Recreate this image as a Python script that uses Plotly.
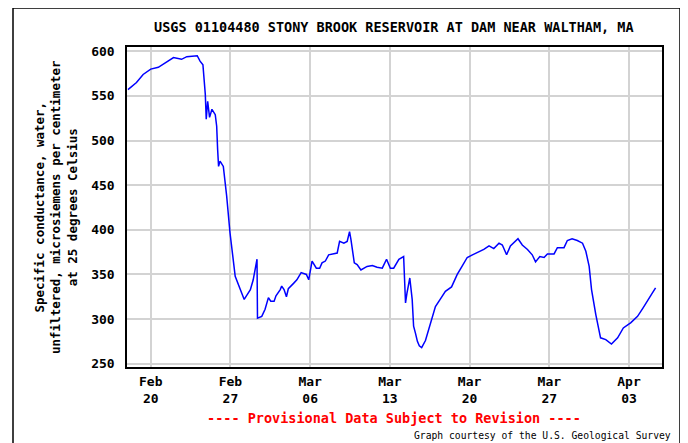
import plotly.graph_objects as go

# data (year assumed non-leap, 2023)
times = [
    "2023-02-18 00:00", "2023-02-18 18:00", "2023-02-19 08:00", "2023-02-20 00:00",
    "2023-02-20 16:00", "2023-02-21 06:00", "2023-02-22 00:00", "2023-02-22 17:00",
    "2023-02-23 04:00", "2023-02-24 02:00", "2023-02-24 08:00", "2023-02-24 14:00",
    "2023-02-24 19:00", "2023-02-24 21:00", "2023-02-25 00:00", "2023-02-25 04:00",
    "2023-02-25 09:00", "2023-02-25 16:00", "2023-02-25 19:00", "2023-02-25 21:00",
    "2023-02-25 23:00", "2023-02-26 02:00", "2023-02-26 09:00", "2023-02-26 16:00",
    "2023-02-26 23:00", "2023-02-27 10:00", "2023-02-27 20:00", "2023-02-28 05:00",
    "2023-02-28 11:00", "2023-02-28 18:00", "2023-03-01 00:00", "2023-03-01 04:00",
    "2023-03-01 08:00", "2023-03-01 09:00", "2023-03-01 18:00", "2023-03-02 01:00",
    "2023-03-02 08:00", "2023-03-02 13:00", "2023-03-02 20:00", "2023-03-03 00:00",
    "2023-03-03 09:00", "2023-03-03 12:00", "2023-03-03 17:00", "2023-03-03 22:00",
    "2023-03-04 02:00", "2023-03-04 13:00", "2023-03-04 20:00", "2023-03-05 05:00",
    "2023-03-05 16:00", "2023-03-05 21:00", "2023-03-06 04:00", "2023-03-06 13:00",
    "2023-03-06 20:00", "2023-03-07 01:00", "2023-03-07 08:00", "2023-03-07 15:00",
    "2023-03-08 09:00", "2023-03-08 14:00", "2023-03-08 23:00", "2023-03-09 06:00",
    "2023-03-09 11:00", "2023-03-09 14:00", "2023-03-09 21:00", "2023-03-10 03:00",
    "2023-03-10 11:00", "2023-03-11 00:00", "2023-03-11 11:00", "2023-03-11 21:00",
    "2023-03-12 08:00", "2023-03-12 17:00", "2023-03-13 01:00", "2023-03-13 08:00",
    "2023-03-13 19:00", "2023-03-14 05:00", "2023-03-14 07:00", "2023-03-14 09:00",
    "2023-03-14 12:00", "2023-03-14 16:00", "2023-03-14 18:00", "2023-03-14 23:00",
    "2023-03-15 02:00", "2023-03-15 06:00", "2023-03-15 10:00", "2023-03-15 14:00",
    "2023-03-15 19:00", "2023-03-16 03:00", "2023-03-16 14:00", "2023-03-17 00:00",
    "2023-03-17 11:00", "2023-03-17 21:00", "2023-03-18 10:00", "2023-03-18 22:00",
    "2023-03-19 08:00", "2023-03-19 19:00", "2023-03-20 06:00", "2023-03-20 17:00",
    "2023-03-21 06:00", "2023-03-21 17:00", "2023-03-22 03:00", "2023-03-22 14:00",
    "2023-03-22 21:00", "2023-03-23 06:00", "2023-03-23 14:00", "2023-03-24 06:00",
    "2023-03-24 15:00", "2023-03-25 02:00", "2023-03-25 12:00", "2023-03-25 19:00",
    "2023-03-26 04:00", "2023-03-26 13:00", "2023-03-26 20:00", "2023-03-27 10:00",
    "2023-03-27 17:00", "2023-03-28 07:00", "2023-03-28 14:00", "2023-03-29 00:00",
    "2023-03-29 11:00", "2023-03-29 22:00", "2023-03-30 05:00", "2023-03-30 12:00",
    "2023-03-30 17:00", "2023-03-31 02:00", "2023-03-31 12:00", "2023-03-31 23:00",
    "2023-04-01 11:00", "2023-04-02 00:00", "2023-04-02 12:00", "2023-04-03 04:00",
    "2023-04-03 18:00", "2023-04-04 05:00", "2023-04-04 18:00", "2023-04-05 01:00",
    "2023-04-05 08:00",
]
conductance = [
    557, 565, 574, 580, 582, 587, 593, 591, 594, 595, 589, 585,
    552, 524, 544, 526, 535, 529, 516, 490, 471, 477, 471, 438,
    397, 348, 333, 322, 327, 333, 344, 355, 367, 301, 303, 311,
    324, 320, 320, 326, 333, 337, 333, 325, 334, 340, 344, 352,
    350, 344, 365, 357, 357, 363, 365, 372, 374, 387, 385, 387,
    398, 389, 363, 361, 355, 359, 360, 358, 357, 367, 357, 357,
    367, 370, 344, 318, 329, 344, 346, 322, 292, 284, 275, 270,
    268, 276, 296, 314, 323, 331, 336, 350, 359, 369, 372, 375,
    378, 382, 379, 385, 383, 372, 382, 390, 383, 378, 372, 364,
    370, 369, 373, 373, 380, 380, 388, 390, 388, 385, 376, 359,
    333, 305, 279, 277, 272, 279, 290, 296, 303, 312, 324, 329,
    335,
]
tick_dates = ["2023-02-20", "2023-02-27", "2023-03-06", "2023-03-13",
              "2023-03-20", "2023-03-27", "2023-04-03"]
tick_labels = ["Feb<br>20", "Feb<br>27", "Mar<br>06", "Mar<br>13",
               "Mar<br>20", "Mar<br>27", "Apr<br>03"]
y_ticks = [250, 300, 350, 400, 450, 500, 550, 600]

mono = "DejaVu Sans Mono"

# page has an 8px body margin, so the figure is drawn 8px smaller and offset
fig = go.Figure(go.Scatter(x=times, y=conductance, mode='lines',
                           line=dict(color='#0000ff', width=1.5), showlegend=False))

fig.update_layout(width=680, height=435, margin=dict(l=119, r=26, t=39, b=76),
                  plot_bgcolor='white', paper_bgcolor='white',
                  font=dict(family=mono, size=13, color='black', weight='bold'))

fig.update_xaxes(range=["2023-02-17 22:00", "2023-04-05 21:30"], tickvals=tick_dates, ticktext=tick_labels,
                 showgrid=True, gridcolor='#d3d3d3', gridwidth=2, showline=True, linecolor='black',
                 mirror=True, linewidth=1.5, ticks='', ticklabelstandoff=2, zeroline=False)
fig.update_yaxes(range=[246.3, 604.8], tickvals=y_ticks, showgrid=True, gridcolor='#d3d3d3', gridwidth=2,
                 showline=True, linecolor='black', mirror=True, linewidth=1.5, ticks='',
                 ticklabelstandoff=8, zeroline=False)

fig.add_annotation(text="USGS 01104480 STONY BROOK RESERVOIR AT DAM NEAR WALTHAM, MA",
                   xref='paper', yref='paper', x=(394 - 127) / 535, y=(367 - 27) / 320,
                   xanchor='center', yanchor='middle', showarrow=False, font=dict(size=13.5))
fig.add_annotation(text="Specific conductance, water,<br>unfiltered, microsiemens per centimeter<br>at 25 degrees Celsius",
                   xref='paper', yref='paper', x=(56 - 127) / 535, y=0.5, textangle=-90,
                   xanchor='center', yanchor='middle', showarrow=False,
                   font=dict(size=12.5))
fig.add_annotation(text="---- Provisional Data Subject to Revision ----",
                   xref='paper', yref='paper', x=(393.5 - 127) / 535, y=(367 - 418) / 320,
                   xanchor='center', yanchor='middle', showarrow=False,
                   font=dict(size=13.5, color='#ff0000'))
fig.add_annotation(text="Graph courtesy of the U.S. Geological Survey",
                   xref='paper', yref='paper', x=(673 - 127) / 535, y=(367 - 435) / 320,
                   xanchor='right', yanchor='middle', showarrow=False,
                   font=dict(size=9.7, weight='normal'))

# outer frame around the whole graphic
fig.add_shape(type='rect', xref='paper', yref='paper', x0=(13 - 127) / 535, x1=(680 - 127) / 535,
              y0=(367 - 450) / 320, y1=(367 - 8) / 320, line=dict(color='black', width=1.5))

fig.write_html("out.html")
